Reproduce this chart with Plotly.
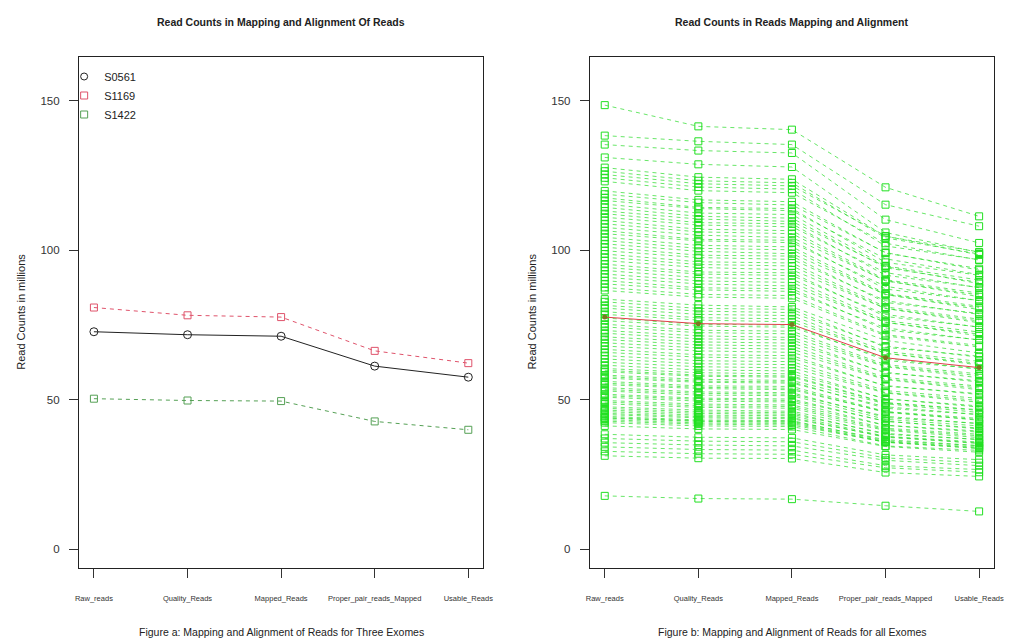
import plotly.graph_objects as go

stages = ["Raw_reads", "Quality_Reads", "Mapped_Reads", "Proper_pair_reads_Mapped", "Usable_Reads"]

# Figure a: three exomes (millions of reads)
s0561 = [72.7, 71.7, 71.2, 61.2, 57.5]
s1169 = [80.8, 78.2, 77.6, 66.3, 62.2]
s1422 = [50.3, 49.7, 49.5, 42.7, 39.9]

# Figure b: all exomes (millions of reads), one value per sample for each stage
raw_reads = [148.5, 138.3, 135.3, 131.0, 127.6, 126.4, 125.3, 124.2, 123.0,
             119.8, 118.7, 117.5, 116.6, 115.4, 114.3, 113.1, 112.2, 111.0, 109.9,
             108.8, 107.6, 106.5, 105.5, 104.3, 103.2, 102.1, 101.0, 99.8, 98.7,
             97.6, 96.5, 95.3, 94.2, 93.2, 92.0, 90.9, 89.8, 88.7, 87.5, 86.5,
             83.6, 82.7, 81.5, 80.6, 79.4, 78.5, 77.3, 76.4, 75.2, 74.3,
             73.1, 72.2, 71.0, 70.1, 69.0, 67.9, 66.8, 65.8, 64.7, 63.6,
             62.5, 61.5, 60.4, 59.8, 59.3, 58.2, 57.7, 57.2, 56.1, 55.5,
             55.0, 54.0, 53.4, 52.9, 51.8, 51.3, 50.8, 49.7, 49.2, 48.6,
             47.6, 47.1, 46.5, 46.0, 45.4, 45.0, 44.4, 44.0, 43.8, 43.3,
             42.8, 42.3, 41.2, 38.4, 37.0, 35.6, 34.2, 32.7, 31.2, 17.8]
quality_reads = [141.4, 136.4, 133.3, 128.7, 124.4, 123.2, 122.2, 121.1, 119.9,
                 116.8, 115.9, 114.3, 113.9, 112.4, 111.3, 110.4, 109.2, 108.4, 107.0,
                 106.1, 105.0, 103.6, 103.1, 101.6, 100.6, 99.6, 98.3, 97.5, 96.1,
                 95.2, 94.2, 92.7, 92.0, 90.8, 89.7, 88.7, 87.4, 86.7, 85.2, 84.3,
                 81.6, 80.5, 79.6, 78.5, 77.4, 76.6, 75.2, 74.6, 73.2, 72.4,
                 71.3, 70.3, 69.3, 68.3, 67.3, 66.3, 65.0, 64.2, 63.0, 62.0,
                 61.0, 59.9, 59.0, 58.2, 57.8, 56.8, 56.2, 55.8, 54.6, 54.1,
                 53.7, 52.6, 52.1, 51.5, 50.5, 50.1, 49.5, 48.5, 47.9, 47.4,
                 46.5, 45.9, 45.4, 44.8, 44.3, 43.9, 43.2, 42.9, 42.7, 42.2,
                 41.8, 41.2, 40.2, 37.4, 36.1, 34.8, 33.3, 31.9, 30.4, 16.9]
mapped_reads = [140.3, 135.3, 132.5, 127.8, 123.7, 122.5, 121.5, 120.4, 119.2,
                116.2, 115.1, 113.9, 113.2, 111.9, 110.7, 109.6, 108.8, 107.8, 106.5,
                105.5, 104.2, 103.3, 102.5, 101.1, 100.1, 98.8, 98.0, 96.9, 95.7,
                94.7, 93.4, 92.4, 91.5, 90.3, 89.2, 88.0, 87.1, 86.2, 84.8, 83.9,
                81.0, 80.2, 79.1, 78.1, 77.0, 76.0, 74.9, 74.2, 72.9, 72.0,
                70.8, 70.0, 68.9, 67.9, 66.9, 65.8, 64.7, 63.8, 62.7, 61.7,
                60.6, 59.6, 58.6, 57.9, 57.5, 56.4, 55.9, 55.5, 54.4, 53.8,
                53.3, 52.3, 51.8, 51.3, 50.2, 49.7, 49.2, 48.2, 47.7, 47.1,
                46.1, 45.6, 45.1, 44.6, 44.0, 43.6, 43.0, 42.7, 42.4, 42.0,
                41.5, 41.0, 40.0, 37.2, 35.9, 34.5, 33.1, 31.7, 30.3, 16.7]
proper_pair_reads = [121.0, 115.2, 110.2, 105.9, 104.6, 104.1, 104.7, 101.4, 102.3,
                     99.0, 99.2, 95.9, 97.1, 94.7, 94.1, 94.5, 91.6, 92.5, 90.1,
                     89.7, 89.8, 87.0, 87.9, 85.5, 85.1, 85.2, 82.5, 83.1, 81.0,
                     80.5, 80.5, 77.8, 78.5, 76.4, 75.8, 75.9, 73.3, 74.0, 71.7, 71.3,
                     69.8, 67.5, 67.9, 66.1, 65.5, 65.5, 63.1, 63.7, 61.7, 61.2,
                     61.0, 58.9, 59.1, 57.4, 56.9, 56.7, 54.5, 54.7, 53.0, 52.4,
                     52.2, 50.2, 50.3, 49.0, 48.9, 48.6, 47.1, 47.6, 46.0, 45.7,
                     45.9, 44.0, 44.4, 43.4, 42.7, 42.8, 41.4, 41.4, 40.4, 40.0,
                     39.7, 38.4, 38.7, 37.7, 37.4, 37.6, 36.2, 36.6, 35.9, 35.7,
                     35.8, 34.5, 34.3, 31.5, 30.5, 29.7, 27.9, 27.2, 25.6, 14.5]
usable_reads = [111.3, 108.0, 102.4, 99.2, 99.4, 98.7, 98.4, 96.8, 96.7,
                93.8, 93.3, 91.6, 91.8, 90.0, 89.2, 88.8, 87.5, 87.4, 85.6,
                85.0, 84.4, 83.1, 83.1, 81.2, 80.7, 80.1, 78.8, 78.5, 76.9,
                76.3, 75.7, 74.3, 74.2, 72.6, 71.9, 71.3, 70.0, 69.9, 68.1, 67.6,
                65.6, 64.5, 64.2, 62.8, 62.1, 61.6, 60.3, 60.2, 58.6, 58.0,
                57.3, 56.3, 55.9, 54.5, 53.9, 53.3, 52.0, 51.7, 50.4, 49.7,
                49.1, 47.9, 47.5, 46.6, 46.4, 45.7, 45.0, 45.0, 43.7, 43.3,
                43.1, 42.0, 42.0, 41.2, 40.5, 40.2, 39.5, 39.1, 38.4, 37.9,
                37.3, 36.7, 36.6, 35.8, 35.5, 35.3, 34.6, 34.6, 34.1, 33.8,
                33.6, 33.0, 32.4, 29.9, 28.9, 27.9, 26.6, 25.7, 24.3, 12.6]
mean_reads = [77.6, 75.4, 75.1, 64.0, 60.7]

W, H = 1011, 640
FONT = "Liberation Sans, Arial, sans-serif"

fig = go.Figure()

# ---- Figure a
fig.add_trace(go.Scatter(x=stages, y=s0561, mode="lines+markers", name="S0561",
                         line=dict(color="#222222", width=1),
                         marker=dict(symbol="circle-open", size=8, color="#222222", line=dict(width=1)),
                         xaxis="x", yaxis="y", showlegend=False))
fig.add_trace(go.Scatter(x=stages, y=s1169, mode="lines+markers", name="S1169",
                         line=dict(color="#DF536B", width=1, dash="4px,4px"),
                         marker=dict(symbol="square-open", size=7, color="#DF536B", line=dict(width=1)),
                         xaxis="x", yaxis="y", showlegend=False))
fig.add_trace(go.Scatter(x=stages, y=s1422, mode="lines+markers", name="S1422",
                         line=dict(color="#55A055", width=1, dash="4px,4px"),
                         marker=dict(symbol="square-open", size=7, color="#55A055", line=dict(width=1)),
                         xaxis="x", yaxis="y", showlegend=False))
# legend glyphs (symbols only, as in the original)
for nm, sym, col in [("S0561", "circle-open", "#222222"), ("S1169", "square-open", "#DF536B"),
                     ("S1422", "square-open", "#55A055")]:
    fig.add_trace(go.Scatter(x=[None], y=[None], mode="markers", name=nm,
                             marker=dict(symbol=sym, size=7, color=col, line=dict(width=1)),
                             xaxis="x", yaxis="y", showlegend=True))

# ---- Figure b
xs, ys = [], []
for vals in zip(raw_reads, quality_reads, mapped_reads, proper_pair_reads, usable_reads):
    xs += stages + [None]
    ys += list(vals) + [None]
fig.add_trace(go.Scatter(x=xs, y=ys, mode="lines+markers", connectgaps=False,
                         line=dict(color="rgba(40,220,40,0.7)", width=1, dash="4px,4px"),
                         marker=dict(symbol="square-open", size=7, color="#22E022", line=dict(width=1)),
                         xaxis="x2", yaxis="y2", showlegend=False))
fig.add_trace(go.Scatter(x=stages, y=mean_reads, mode="lines+markers",
                         line=dict(color="#E0404A", width=1),
                         marker=dict(symbol="circle", size=5, color="#7A7A20"),
                         xaxis="x2", yaxis="y2", showlegend=False))

def px_x(p):
    return p / W

def px_y(p):
    return 1 - p / H

yr = [-6.33, 164.6]
xr = [-0.16, 4.16]
common_x = dict(type="category", categoryorder="array", categoryarray=stages, range=xr,
                showline=True, linecolor="#222222", linewidth=1, mirror=True,
                ticks="outside", ticklen=9, tickcolor="#333333", tickwidth=1,
                showgrid=False, zeroline=False, ticklabelstandoff=14,
                tickfont=dict(family=FONT, size=7.5, color="#333333"))
common_y = dict(range=yr, tickvals=[0, 50, 100, 150],
                showline=True, linecolor="#222222", linewidth=1, mirror=True,
                ticks="outside", ticklen=9, tickcolor="#333333", tickwidth=1,
                showgrid=False, zeroline=False, ticklabelstandoff=7,
                tickfont=dict(family=FONT, size=11.5, color="#333333"))

ydom = [px_y(568), px_y(57)]
fig.update_layout(
    width=W, height=H, autosize=False, margin=dict(l=0, r=0, t=0, b=0),
    paper_bgcolor="white", plot_bgcolor="white",
    font=dict(family=FONT, color="#222222"),
    xaxis=dict(domain=[px_x(76), px_x(486)], anchor="y", **common_x),
    yaxis=dict(domain=ydom, anchor="x", **common_y),
    xaxis2=dict(domain=[px_x(594), px_x(1004)], anchor="y2", **common_x),
    yaxis2=dict(domain=ydom, anchor="x2", **common_y),
    legend=dict(x=px_x(61), y=px_y(62), xanchor="left", yanchor="top",
                bgcolor="rgba(0,0,0,0)", font=dict(family=FONT, size=11, color="#222222"),
                itemwidth=30, tracegroupgap=0),
)

annots = [
    dict(text="<b>Read Counts in Mapping and Alignment Of Reads</b>", x=px_x(281), y=px_y(22), size=10.5),
    dict(text="<b>Read Counts in Reads Mapping and Alignment</b>", x=px_x(799), y=px_y(22), size=10.5),
    dict(text="Figure a: Mapping and Alignment of Reads for Three Exomes", x=px_x(281), y=px_y(632), size=10.5),
    dict(text="Figure b: Mapping and Alignment of Reads for all Exomes", x=px_x(799), y=px_y(632), size=10.5),
]
for a in annots:
    fig.add_annotation(text=a["text"], x=a["x"], y=a["y"], xref="paper", yref="paper",
                       showarrow=False, xanchor="center", yanchor="middle",
                       font=dict(family=FONT, size=a["size"], color="#222222"))
for xp in (17, 535):
    fig.add_annotation(text="Read Counts in millions", x=px_x(xp), y=px_y(312), xref="paper", yref="paper",
                       showarrow=False, textangle=-90, xanchor="center", yanchor="middle",
                       font=dict(family=FONT, size=11, color="#222222"))

fig.write_html("out.html", config={"responsive": False})
